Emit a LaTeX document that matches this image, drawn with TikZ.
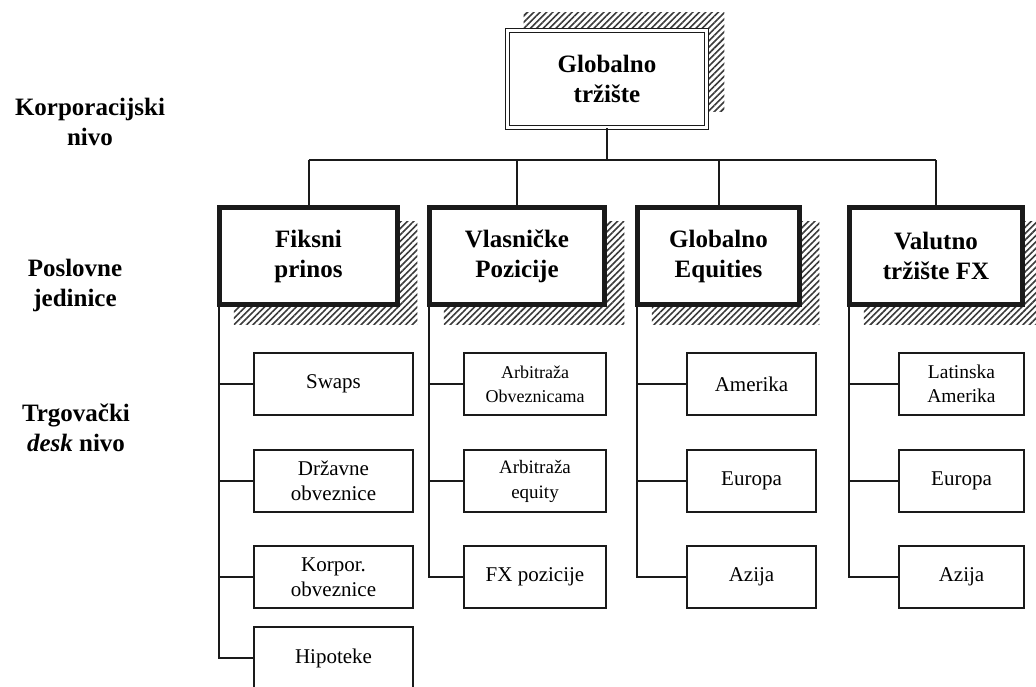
\documentclass[tikz,border=0pt]{standalone}
\usepackage{fontspec}
\setmainfont{Liberation Serif}
\usetikzlibrary{calc,patterns.meta,backgrounds}
\definecolor{inkc}{HTML}{1A1A1A}
\definecolor{hatchc}{HTML}{3A3A3A}
\tikzset{
  ln/.style={line width=2pt,inkc},
  hatch/.style={pattern={Lines[angle=45,distance=4.5pt,line width=1.6pt]},pattern color=hatchc},
  topbox/.style={draw=inkc,double,line width=1.7pt,double distance=2.2pt,fill=white,minimum width=199pt,minimum height=97pt,align=center,font=\bfseries\fontsize{25}{30}\selectfont},
  unitbox/.style={draw=inkc,line width=5.5pt,fill=white,minimum height=97pt,align=center,font=\bfseries\fontsize{25}{30}\selectfont},
  deskbox/.style={draw=inkc,line width=1.9pt,fill=white,minimum height=62.5pt,align=center,font=\fontsize{21}{25}\selectfont},
  lvl/.style={align=center,font=\bfseries\fontsize{25}{30}\selectfont}
}
\begin{document}
\begin{tikzpicture}[x=1pt,y=-1pt]
\useasboundingbox (0,0) rectangle (1036,686);
% level labels
\node[lvl] (lkorp) at (90,122) {Korporacijski\\nivo};
\node[lvl] (lposl) at (75,285) {Poslovne\\jedinice};
\node[lvl] (ltrg) at (76,428) {Trgovački\\\textit{desk} nivo};
% top and business units
\node[topbox] (glob) at (607,79) {Globalno\\tržište};
\node[unitbox,minimum width=178pt] (fik) at (308.5,256) {Fiksni\\prinos};
\node[unitbox,minimum width=175pt] (vla) at (517,256) {Vlasničke\\Pozicije};
\node[unitbox,minimum width=162pt] (equ) at (718.5,256) {Globalno\\Equities};
\node[unitbox,minimum width=173pt] (fxm) at (936,256) {Valutno\\tržište FX};
% desks
\node[deskbox,minimum width=159pt] (f1) at (333.5,384) {Swaps};
\node[deskbox,minimum width=159pt] (f2) at (333.5,481) {Državne\\obveznice};
\node[deskbox,minimum width=159pt] (f3) at (333.5,577) {Korpor.\\obveznice};
\node[deskbox,minimum width=159pt] (f4) at (333.5,658) {Hipoteke};
\node[deskbox,minimum width=142.5pt,font=\fontsize{18}{24}\selectfont] (v1) at (535,384) {Arbitraža\\Obveznicama};
\node[deskbox,minimum width=142.5pt,font=\fontsize{19}{25}\selectfont] (v2) at (535,481) {Arbitraža\\equity};
\node[deskbox,minimum width=142.5pt] (v3) at (535,577) {FX pozicije};
\node[deskbox,minimum width=129.5pt] (e1) at (751.5,384) {Amerika};
\node[deskbox,minimum width=129.5pt] (e2) at (751.5,481) {Europa};
\node[deskbox,minimum width=129.5pt] (e3) at (751.5,577) {Azija};
\node[deskbox,minimum width=125.5pt,font=\fontsize{19.5}{24}\selectfont] (x1) at (961.5,384) {Latinska\\Amerika};
\node[deskbox,minimum width=125.5pt] (x2) at (961.5,481) {Europa};
\node[deskbox,minimum width=125.5pt] (x3) at (961.5,577) {Azija};
% hatched shadows
\begin{scope}[on background layer]
\fill[hatch] ($(glob.south west)+(17,-17)$) rectangle ($(glob.north east)+(17,-17)$);
\foreach \u in {fik,vla,equ,fxm}
  \fill[hatch] ($(\u.south west)+(17,17)$) rectangle ($(\u.north east)+(17,17)$);
\end{scope}
% tree
\coordinate (hub) at (607,160);
\draw[ln] (glob.south) -- (hub);
\draw[ln] (fik.north |- hub) -- (fxm.north |- hub);
\foreach \u in {fik,vla,equ,fxm}
  \draw[ln] (\u.north |- hub) -- (\u.north);
\coordinate (fsp) at ($(fik.south west)+(2.5,0)$);
\coordinate (vsp) at ($(vla.south west)+(2.5,0)$);
\coordinate (esp) at ($(equ.south west)+(2,0)$);
\coordinate (xsp) at ($(fxm.south west)+(2,0)$);
\draw[ln] (fsp) |- (f4.west);
\draw[ln] (vsp) |- (v3.west);
\draw[ln] (esp) |- (e3.west);
\draw[ln] (xsp) |- (x3.west);
\foreach \d in {f1,f2,f3} \draw[ln] (\d.west -| fsp) -- (\d.west);
\foreach \d in {v1,v2} \draw[ln] (\d.west -| vsp) -- (\d.west);
\foreach \d in {e1,e2} \draw[ln] (\d.west -| esp) -- (\d.west);
\foreach \d in {x1,x2} \draw[ln] (\d.west -| xsp) -- (\d.west);
\end{tikzpicture}
\end{document}
